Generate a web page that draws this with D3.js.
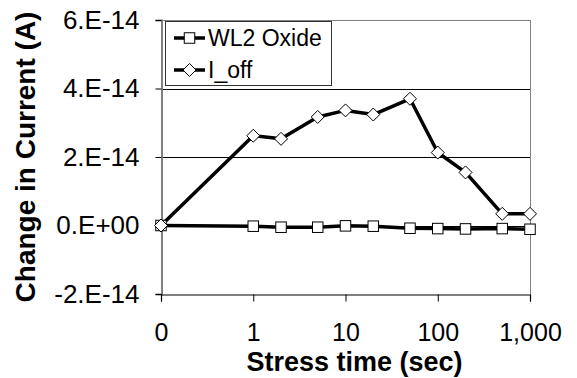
<!DOCTYPE html>
<html>
<head>
<meta charset="utf-8">
<script src="https://cdn.jsdelivr.net/npm/d3@7"></script>
<style>
  html, body { margin: 0; padding: 0; background: #fff; }
  svg { display: block; }
  text { font-family: "Liberation Sans", Arial, sans-serif; fill: #000; }
</style>
</head>
<body>
<svg id="chart" width="577" height="378"></svg>
<script>
const stressTime = [0, 1, 2, 5, 10, 20, 50, 100, 200, 500, 1000];
const wl2Oxide = [0, -0.02e-14, -0.05e-14, -0.05e-14, -0.01e-14, -0.02e-14, -0.08e-14, -0.09e-14, -0.10e-14, -0.09e-14, -0.11e-14];
const iOff = [0, 2.62e-14, 2.53e-14, 3.17e-14, 3.36e-14, 3.24e-14, 3.70e-14, 2.13e-14, 1.55e-14, 0.34e-14, 0.34e-14];
const xTickValues = [0, 1, 10, 100, 1000];
const xTickLabels = ["0", "1", "10", "100", "1,000"];
const yTickValues = [-2e-14, 0, 2e-14, 4e-14, 6e-14];
const yTickLabels = ["-2.E-14", "0.E+00", "2.E-14", "4.E-14", "6.E-14"];
const seriesNames = ["WL2 Oxide", "I_off"];

const svg = d3.select("#chart");
const L = 161, R = 530, T = 20, B = 294;

const xLog = d3.scaleLog().domain([0.1, 1000]).range([L, R]);
const xPos = v => xLog(v === 0 ? 0.1 : v);
const y = d3.scaleLinear().domain([-2e-14, 6e-14]).range([B, T]);

// gridlines
svg.append("g").selectAll("line").data(yTickValues.filter(v => v > -2e-14 && v < 6e-14))
  .join("line")
  .attr("x1", L).attr("x2", R)
  .attr("y1", d => Math.round(y(d)) + 0.5).attr("y2", d => Math.round(y(d)) + 0.5)
  .attr("stroke", "#000").attr("stroke-width", 1);

// plot border top/right (gray)
svg.append("line").attr("x1", L).attr("x2", R + 0.5).attr("y1", T + 0.5).attr("y2", T + 0.5)
  .attr("stroke", "#808080").attr("stroke-width", 1);
svg.append("line").attr("x1", R + 0.5).attr("x2", R + 0.5).attr("y1", T).attr("y2", B)
  .attr("stroke", "#808080").attr("stroke-width", 1);

// y axis
const yAxis = d3.axisLeft(y).tickValues(yTickValues).tickFormat((d, i) => yTickLabels[i])
  .tickSize(6).tickPadding(16);
const gy = svg.append("g").attr("transform", `translate(${L + 0.5},0)`).call(yAxis);
gy.select(".domain").attr("stroke", "#808080").attr("stroke-width", 2);
gy.selectAll(".tick line").attr("stroke", "#000");
gy.selectAll(".tick text").attr("font-size", 26).attr("font-family", "Liberation Sans, Arial, sans-serif").attr("fill", "#000");

// x axis
const xAxis = d3.axisBottom(xLog).tickValues(xTickValues.map(v => v === 0 ? 0.1 : v))
  .tickFormat((d, i) => xTickLabels[i]).tickSize(7).tickPadding(22);
const gx = svg.append("g").attr("transform", `translate(0,${B + 0.5})`).call(xAxis);
gx.select(".domain").attr("stroke", "#000").attr("stroke-width", 1.2);
gx.selectAll(".tick line").attr("stroke", "#000");
gx.selectAll(".tick text").attr("font-size", 25).attr("font-family", "Liberation Sans, Arial, sans-serif").attr("fill", "#000");

// titles
svg.append("text").attr("x", (L + R) / 2 + 9).attr("y", 371).attr("text-anchor", "middle")
  .attr("font-size", 27).attr("font-weight", "bold").text("Stress time (sec)");
svg.append("text").attr("transform", `translate(35,${(T + B) / 2}) rotate(-90)`)
  .attr("text-anchor", "middle").attr("font-size", 28).attr("font-weight", "bold")
  .text("Change in Current (A)");

const line = d3.line().x(d => xPos(d[0])).y(d => y(d[1]));
const wlData = stressTime.map((t, i) => [t, wl2Oxide[i]]);
const ioData = stressTime.map((t, i) => [t, iOff[i]]);

svg.append("path").datum(wlData).attr("d", line).attr("fill", "none")
  .attr("stroke", "#000").attr("stroke-width", 3.5).attr("stroke-linejoin", "round");
svg.append("path").datum(ioData).attr("d", line).attr("fill", "none")
  .attr("stroke", "#000").attr("stroke-width", 3.5).attr("stroke-linejoin", "round");

const sq = 10.5;
svg.append("g").selectAll("rect").data(wlData).join("rect")
  .attr("x", d => xPos(d[0]) - sq / 2).attr("y", d => y(d[1]) - sq / 2)
  .attr("width", sq).attr("height", sq).attr("fill", "#fff").attr("stroke", "#000").attr("stroke-width", 1);

const dm = 6.5;
const diamond = (cx, cy) => `M${cx},${cy - dm}L${cx + dm},${cy}L${cx},${cy + dm}L${cx - dm},${cy}Z`;
svg.append("g").selectAll("path").data(ioData).join("path")
  .attr("d", d => diamond(xPos(d[0]), y(d[1])))
  .attr("fill", "#fff").attr("stroke", "#000").attr("stroke-width", 1);

// legend
const lg = svg.append("g");
lg.append("rect").attr("x", 165.5).attr("y", 21.5).attr("width", 166).attr("height", 64)
  .attr("fill", "#fff").attr("stroke", "#333").attr("stroke-width", 1);
const rows = [{ y: 38, kind: "sq" }, { y: 70, kind: "dm" }];
rows.forEach((r, i) => {
  lg.append("line").attr("x1", 174).attr("x2", 205).attr("y1", r.y).attr("y2", r.y)
    .attr("stroke", "#000").attr("stroke-width", 3.5);
  if (r.kind === "sq") {
    lg.append("rect").attr("x", 189.5 - sq / 2).attr("y", r.y - sq / 2).attr("width", sq).attr("height", sq)
      .attr("fill", "#fff").attr("stroke", "#000").attr("stroke-width", 1);
  } else {
    lg.append("path").attr("d", diamond(189.5, r.y)).attr("fill", "#fff").attr("stroke", "#000").attr("stroke-width", 1);
  }
  lg.append("text").attr("x", 208).attr("y", r.y).attr("dy", "0.35em")
    .attr("font-size", 23).text(seriesNames[i]);
});
</script>
</body>
</html>
